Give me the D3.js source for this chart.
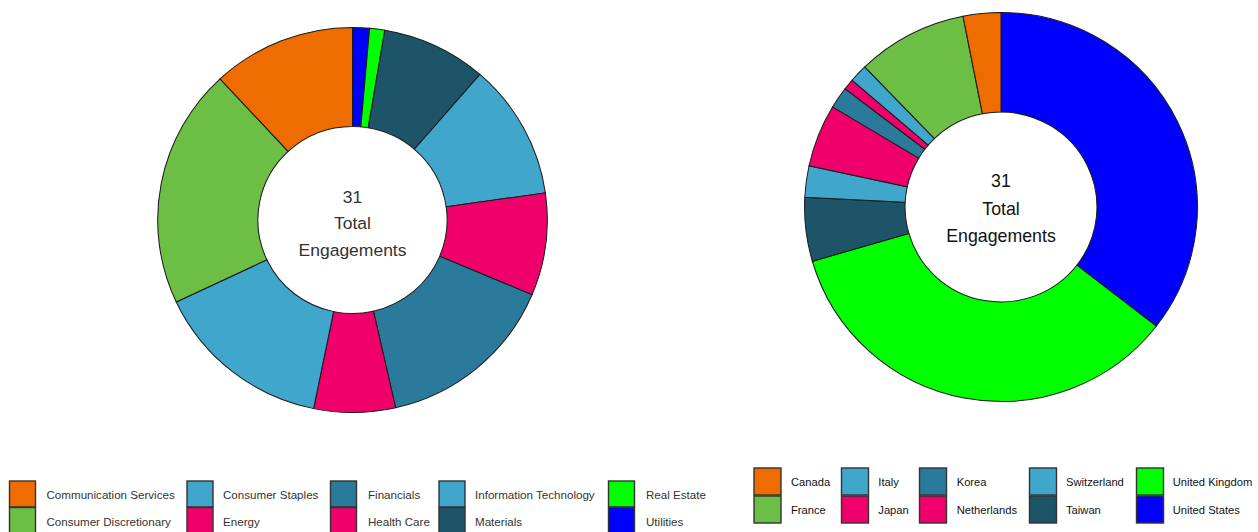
<!DOCTYPE html>
<html>
<head>
<meta charset="utf-8">
<script src="https://cdn.jsdelivr.net/npm/d3@7"></script>
<style>
  html, body { margin: 0; padding: 0; background: #fff; }
  svg { display: block; font-family: "Liberation Sans", Arial, sans-serif; }
</style>
</head>
<body>
<svg id="chart" width="1258" height="532"></svg>
<script>
// ---- Data ----
const sectorNames = ["Communication Services", "Consumer Discretionary", "Consumer Staples", "Energy",
  "Financials", "Health Care", "Information Technology", "Materials", "Real Estate", "Utilities"];
const sectorWeights = [11.9, 20.1, 14.8, 6.75, 15.1, 8.6, 11.4, 8.7, 1.25, 1.4];
const sectorColors = ["#EF6C00", "#6DBE45", "#40A6CC", "#EF006B", "#2A7B9B", "#EF006B", "#40A6CC", "#1D5468", "#00FF00", "#0000FF"];

const countryNames = ["Canada", "France", "Italy", "Japan", "Korea", "Netherlands",
  "Switzerland", "Taiwan", "United Kingdom", "United States"];
const countryWeights = [3.1, 9.1, 1.5, 0.9, 1.8, 5.2, 2.6, 5.3, 35.0, 35.5];
const countryColors = ["#EF6C00", "#6DBE45", "#40A6CC", "#EF006B", "#2A7B9B", "#EF006B", "#40A6CC", "#1D5468", "#00FF00", "#0000FF"];

const centerLines = ["31", "Total", "Engagements"];

const svg = d3.select("#chart");

function donut(cfg) {
  const data = cfg.names.map((n, i) => ({ name: n, value: cfg.values[i], color: cfg.colors[i], idx: i }));
  // stacked reverse order: last category starts at 12 o'clock going clockwise
  const pie = d3.pie().sort(null).value(d => d.value);
  const arcs = pie(data.slice().reverse());
  const arc = d3.arc().innerRadius(cfg.rInner).outerRadius(cfg.rOuter);
  const g = svg.append("g").attr("transform", `translate(${cfg.cx},${cfg.cy}) scale(${cfg.sx},1)`);
  g.selectAll("path").data(arcs).join("path")
    .attr("d", arc)
    .attr("fill", d => d.data.color)
    .attr("stroke", "#1a1a1a")
    .attr("stroke-width", 1);
  const t = g.append("g");
  centerLines.forEach((s, i) => {
    t.append("text")
      .attr("x", 0).attr("y", cfg.textY[i])
      .attr("text-anchor", "middle")
      .attr("dominant-baseline", "central")
      .attr("font-size", cfg.fontSize)
      .attr("fill", cfg.textColor)
      .text(s);
  });
}

donut({ names: sectorNames, values: sectorWeights, colors: sectorColors,
  cx: 352.5, cy: 220, rOuter: 192.5, rInner: 93.5, sx: 1.012,
  textY: [-23, 3.5, 30], fontSize: 17.3, textColor: "#333" });

donut({ names: countryNames, values: countryWeights, colors: countryColors,
  cx: 1001, cy: 207, rOuter: 194.5, rInner: 95, sx: 1.01,
  textY: [-25.5, 2, 29], fontSize: 17.6, textColor: "#111" });

// ---- Legends ----
function legend(cfg) {
  const g = svg.append("g");
  cfg.names.forEach((n, i) => {
    const col = Math.floor(i / 2), row = i % 2;
    const x = cfg.keyX[col], y = cfg.y0 + row * cfg.rowH;
    g.append("rect")
      .attr("x", x).attr("y", y)
      .attr("width", cfg.key).attr("height", cfg.key)
      .attr("fill", cfg.colors[i])
      .attr("stroke", "#333").attr("stroke-width", 1.4);
    g.append("text")
      .attr("x", cfg.textX[col]).attr("y", y + cfg.key / 2 + 0.5)
      .attr("dominant-baseline", "central")
      .attr("font-size", cfg.fontSize)
      .attr("fill", cfg.textColor)
      .text(n);
  });
}

legend({ names: sectorNames, colors: sectorColors,
  keyX: [9.5, 187, 330.5, 439, 608.5], textX: [46.5, 223, 368, 475, 646],
  y0: 481, rowH: 26.5, key: 26, fontSize: 11.6, textColor: "#333" });

legend({ names: countryNames, colors: countryColors,
  keyX: [754, 841.5, 919.5, 1029.5, 1136.5], textX: [791, 878.3, 956.7, 1066, 1172.7],
  y0: 468, rowH: 28, key: 27, fontSize: 11.2, textColor: "#111" });
</script>
</body>
</html>
